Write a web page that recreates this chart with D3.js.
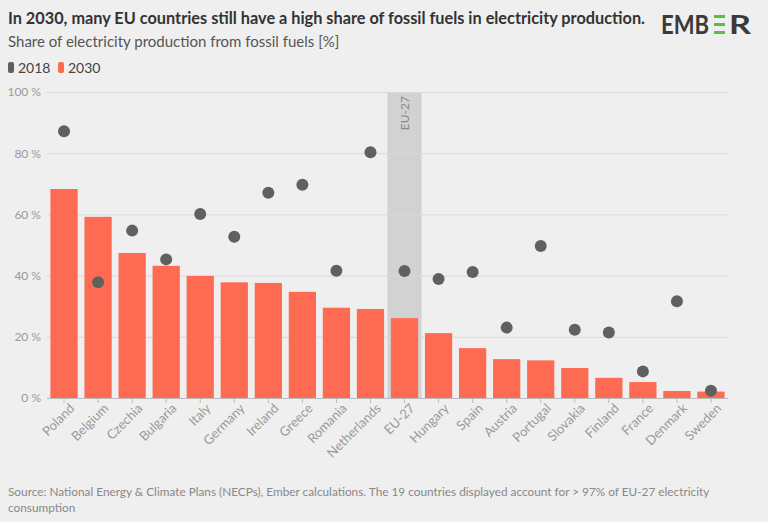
<!DOCTYPE html>
<html>
<head>
<meta charset="utf-8">
<script src="https://cdn.jsdelivr.net/npm/d3@7"></script>
<style>
  body { margin: 0; background: #efefef; }
  svg { display: block; font-family: Lato, "Open Sans", sans-serif; }
</style>
</head>
<body>
<div id="chart"></div>
<script>
// chart data
var countries = ["Poland", "Belgium", "Czechia", "Bulgaria", "Italy", "Germany", "Ireland", "Greece",
    "Romania", "Netherlands", "EU-27", "Hungary", "Spain", "Austria", "Portugal", "Slovakia",
    "Finland", "France", "Denmark", "Sweden"];
var share2030 = [68.3, 59.2, 47.4, 43.2, 39.9, 37.8, 37.6, 34.7, 29.5, 29.1, 26.1, 21.2, 16.3, 12.7,
    12.3, 9.8, 6.6, 5.2, 2.3, 2.1];
var share2018 = [87.2, 37.8, 54.7, 45.3, 60.1, 52.7, 67.1, 69.7, 41.6, 80.3, 41.5, 38.9, 41.2, 23.0,
    49.7, 22.3, 21.4, 8.7, 31.6, 2.4];
var yTicks = [0, 20, 40, 60, 80, 100];
var highlight = "EU-27";

var width = 768, height = 522;
var margin = { top: 92, right: 40, bottom: 124, left: 47 };

var svg = d3.select("#chart").append("svg")
    .attr("width", width)
    .attr("height", height);

svg.append("rect").attr("width", width).attr("height", height).attr("fill", "#efefef");

// titles
svg.append("text")
    .attr("x", 8).attr("y", 24)
    .attr("font-size", 16.3).attr("font-weight", "bold").attr("fill", "#333")
    .text("In 2030, many EU countries still have a high share of fossil fuels in electricity production.");
svg.append("text")
    .attr("x", 8).attr("y", 47)
    .attr("font-size", 15).attr("fill", "#555")
    .text("Share of electricity production from fossil fuels [%]");

// logo
var logo = svg.append("g").attr("transform", "translate(661,34)");
logo.append("text").attr("font-size", 26).attr("font-weight", "bold").attr("fill", "#3a3a3a")
    .attr("textLength", 48).attr("lengthAdjust", "spacingAndGlyphs").text("EMB");
[0, 1, 2].forEach(function (i) {
    logo.append("rect").attr("x", 53).attr("y", -19 + i * 8).attr("width", 11).attr("height", 3)
        .attr("fill", "#5abf3c");
});
logo.append("text").attr("x", 68).attr("font-size", 26).attr("font-weight", "bold").attr("fill", "#3a3a3a")
    .attr("textLength", 22).attr("lengthAdjust", "spacingAndGlyphs").text("R");

// legend
var legend = svg.append("g").attr("transform", "translate(8,68)");
[["2018", "#606060"], ["2030", "#ff6b52"]].forEach(function (d, i) {
    var g = legend.append("g").attr("transform", "translate(" + (i * 50) + ",0)");
    g.append("rect").attr("x", 0).attr("y", -6).attr("width", 6).attr("height", 11).attr("rx", 2)
        .attr("fill", d[1]);
    g.append("text").attr("x", 10).attr("y", 5).attr("font-size", 14).attr("fill", "#444").text(d[0]);
});

var x = d3.scaleBand()
    .domain(countries)
    .range([margin.left, width - margin.right])
    .paddingInner(0.2)
    .paddingOuter(0.1);

var y = d3.scaleLinear()
    .domain([0, 100])
    .range([height - margin.bottom, margin.top]);

// EU-27 highlight band
var step = x.step();
svg.append("rect")
    .attr("x", x(highlight) - step * 0.1)
    .attr("y", y(100))
    .attr("width", step)
    .attr("height", y(0) - y(100))
    .attr("fill", "#d2d2d2");
svg.append("text")
    .attr("transform", "translate(" + (x(highlight) + x.bandwidth() / 2 + 4) + "," + (y(100) + 4) + ") rotate(-90)")
    .attr("text-anchor", "end")
    .attr("font-size", 12).attr("fill", "#888")
    .text(highlight);

// grid + y axis
var yAxis = d3.axisLeft(y)
    .tickValues(yTicks)
    .tickSize(-(width - margin.left - margin.right))
    .tickFormat(function (d) { return d + " %"; });
var gy = svg.append("g").attr("transform", "translate(" + margin.left + ",0)").call(yAxis);
gy.select(".domain").remove();
gy.selectAll(".tick line").attr("stroke", "#d8d8d8").attr("stroke-width", 1);
gy.selectAll(".tick text").attr("x", -6).attr("font-size", 12).attr("fill", "#999")
    .attr("font-family", "Lato, sans-serif");

// bars
svg.append("g").selectAll("rect")
    .data(countries)
    .enter().append("rect")
    .attr("x", function (d) { return x(d); })
    .attr("y", function (d, i) { return y(share2030[i]); })
    .attr("width", x.bandwidth())
    .attr("height", function (d, i) { return y(0) - y(share2030[i]); })
    .attr("fill", "#ff6b52");

// x axis
var xAxis = d3.axisBottom(x).tickSize(5).tickSizeOuter(0);
var gx = svg.append("g").attr("transform", "translate(0," + y(0) + ")").call(xAxis);
gx.select(".domain").attr("stroke", "#bbb");
gx.selectAll(".tick line").attr("stroke", "#bbb");
gx.selectAll(".tick text")
    .attr("font-size", 13).attr("fill", "#999").attr("font-family", "Lato, sans-serif")
    .attr("text-anchor", "end")
    .attr("dx", "0em").attr("dy", "0.6em")
    .attr("transform", "rotate(-45)");

// dots
svg.append("g").selectAll("circle")
    .data(countries)
    .enter().append("circle")
    .attr("cx", function (d) { return x(d) + x.bandwidth() / 2; })
    .attr("cy", function (d, i) { return y(share2018[i]); })
    .attr("r", 6)
    .attr("fill", "#606060");

// source
var src = svg.append("text").attr("x", 8).attr("y", 496).attr("font-size", 11.8).attr("fill", "#888");
src.append("tspan").attr("x", 8).text("Source: National Energy & Climate Plans (NECPs), Ember calculations. The 19 countries displayed account for > 97% of EU-27 electricity");
src.append("tspan").attr("x", 8).attr("dy", 16).text("consumption");
</script>
</body>
</html>
